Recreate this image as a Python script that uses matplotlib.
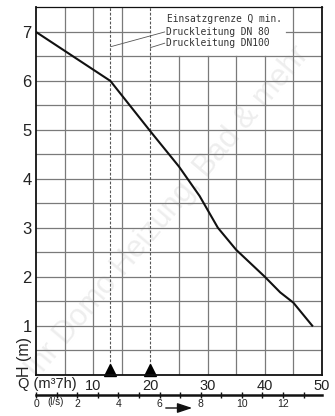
import matplotlib.pyplot as plt

# Kennlinie: Q (m3/h) gegen H (m)
q_werte = [0, 6.5, 13, 16.4, 20, 25, 28.6, 31.8, 35, 40, 42.7, 45, 48.3]
h_werte = [7.0, 6.5, 6.0, 5.5, 4.97, 4.25, 3.65, 3.0, 2.55, 2.0, 1.68, 1.47, 1.0]

# Einsatzgrenzen (Q min.) fuer DN 80 und DN100
q_min = [13, 20]

q_ticks = [10, 20, 30, 40, 50]
h_ticks = [1, 2, 3, 4, 5, 6, 7]
ls_ticks = [0, 2, 4, 6, 8, 10, 12]
ls_minor = [1, 3, 5, 7, 9, 11, 13]

q_raster = [5, 10, 15, 25, 30, 35, 40, 45]
h_raster = [i * 0.5 for i in range(1, 15)]

# Bereich des Textfelds (ohne Raster)
feld_q = (20.0, 43.8)
feld_h = 6.5

fig = plt.figure(figsize=(3.35, 4.16), dpi=100)
ax = fig.add_axes([0.1075, 0.0995, 0.8535, 0.8825])
ax.set_xlim(0, 50)
ax.set_ylim(0, 7.5)

# Raster, im Textfeld ausgespart
for q in q_raster:
    oben = feld_h if feld_q[0] < q < feld_q[1] else 7.5
    ax.plot([q, q], [0, oben], color='#7a7a7a', lw=0.9, zorder=2)
for h in h_raster:
    if h > feld_h:
        ax.plot([0, feld_q[0]], [h, h], color='#7a7a7a', lw=0.9, zorder=2)
        ax.plot([feld_q[1], 50], [h, h], color='#7a7a7a', lw=0.9, zorder=2)
    else:
        ax.plot([0, 50], [h, h], color='#7a7a7a', lw=0.9, zorder=2)

# Einsatzgrenzen
for q in q_min:
    ax.plot([q, q], [0, 7.5], color='#555555', lw=0.8, ls=(0, (2.5, 1.5)),
            zorder=3)
ax.plot(q_min, [0.09] * len(q_min), marker='^', ls='none', color='black',
        markersize=9, clip_on=False, zorder=5)

# Kennlinie
ax.plot(q_werte, h_werte, color='#111111', lw=1.5, zorder=4)

# Beschriftung
mono = 'DejaVu Sans Mono'
ax.text(22.9, 7.26, 'Einsatzgrenze Q min.', fontsize=6.9, family=mono,
        color='#333333', va='center', zorder=6)
ax.text(22.7, 7.0, 'Druckleitung DN 80', fontsize=6.9, family=mono,
        color='#333333', va='center', zorder=6)
ax.text(22.7, 6.77, 'Druckleitung DN100', fontsize=6.9, family=mono,
        color='#333333', va='center', zorder=6)
ax.plot([13.1, 22.5], [6.70, 7.0], color='#555555', lw=0.6, zorder=6)
ax.plot([20.0, 22.5], [6.68, 6.77], color='#555555', lw=0.6, zorder=6)

# Wasserzeichen
ax.text(0.50, 0.49, 'Ihr Domo Heizung, Bad & mehr', rotation=50,
        fontsize=22, color='#eeeeee', ha='center', va='center',
        family='Liberation Sans', transform=fig.transFigure, zorder=1)

ax.set_xticks(q_ticks)
ax.set_yticks(h_ticks)
ax.set_xticklabels([str(t) for t in q_ticks], fontsize=10.5,
                   family='Liberation Sans', color='#222222')
ax.set_yticklabels([str(t) for t in h_ticks], fontsize=12,
                   family='Liberation Sans', color='#222222')
ax.tick_params(axis='both', length=0)
ax.tick_params(axis='x', pad=3)
ax.tick_params(axis='y', pad=3)

for s in ax.spines.values():
    s.set_color('#111111')
    s.set_linewidth(1.3)
    s.set_zorder(7)
ax.spines['top'].set_linewidth(0.9)

fig.text(18 / 335, 1 - 384 / 416, 'Q (m³7h)', fontsize=10.5,
         family='Liberation Sans', color='#222222', va='center')
fig.text(25 / 335, 1 - 357 / 416, 'H (m)', fontsize=11.5, rotation=90,
         family='Liberation Sans', color='#222222', va='center', ha='center')

# zweite Skala in l/s
ax2 = fig.add_axes([0.1075, 1 - 395 / 416, 0.8535, 0.0001])
ax2.patch.set_visible(False)
ax2.set_xlim(0, 50 / 3.6)
ax2.set_yticks([])
for k in ['top', 'left', 'right']:
    ax2.spines[k].set_visible(False)
ax2.spines['bottom'].set_linewidth(1.8)
ax2.spines['bottom'].set_color('#111111')
ax2.set_xticks(ls_ticks)
ax2.set_xticks(ls_minor, minor=True)
ax2.set_xticklabels([str(t) for t in ls_ticks], fontsize=7.5,
                    family='Liberation Sans', color='#222222')
ax2.tick_params(axis='x', which='both', direction='inout', length=4,
                width=1, pad=1, colors='#111111', labelcolor='#222222')
fig.text(47 / 335, 1 - 402 / 416, '(l/s)', fontsize=7,
         family='Liberation Sans', color='#222222', va='center')

ax2.annotate('', xy=(195, 8), xytext=(163, 8), xycoords='figure pixels',
             arrowprops=dict(arrowstyle='-|>,head_length=0.9,head_width=0.3',
                             color='#111111', lw=1))

fig.savefig('out.png', dpi=100)
